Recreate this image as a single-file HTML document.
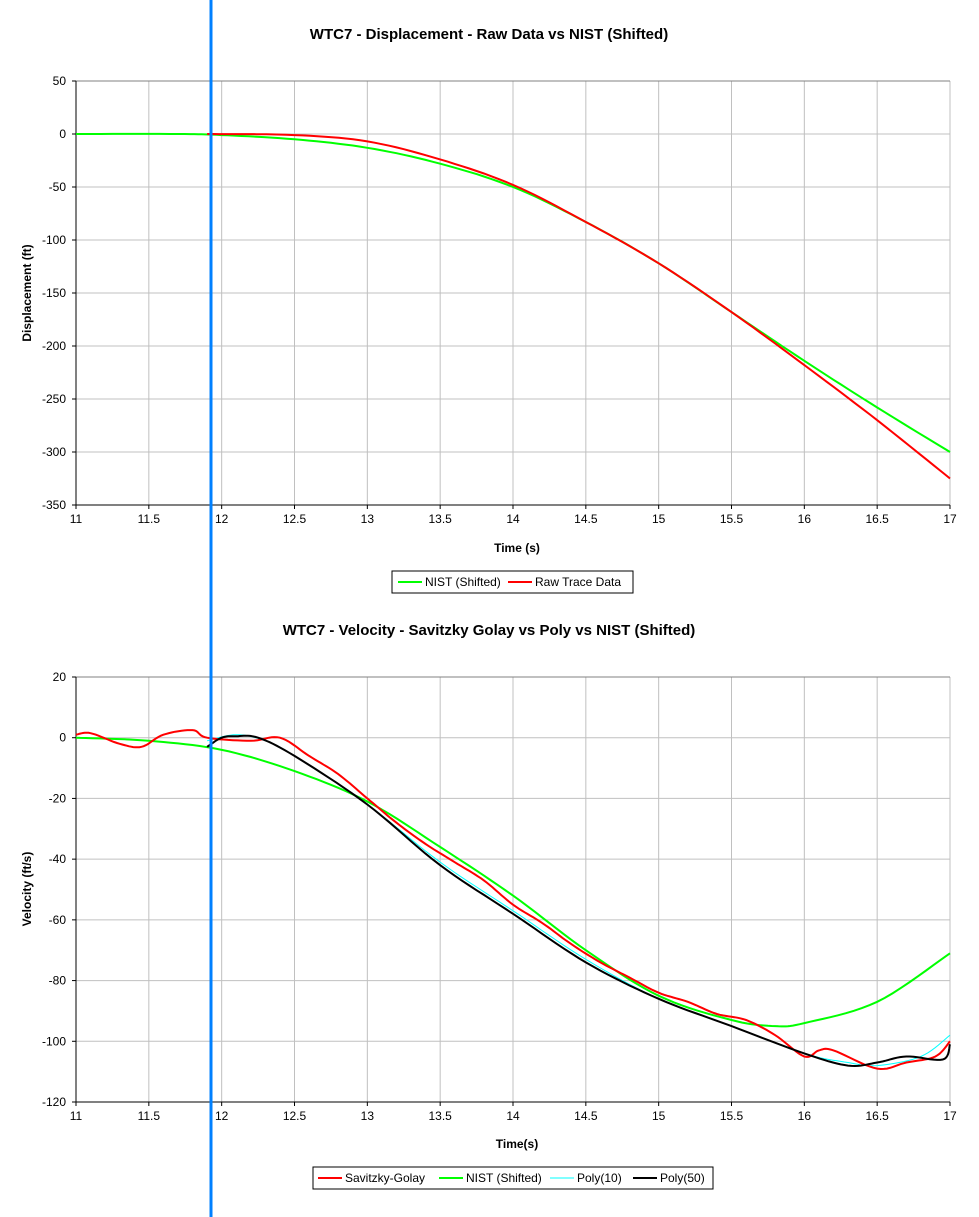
<!DOCTYPE html><html><head><style>body{margin:0;background:#fff}svg{display:block;font-family:"Liberation Sans",Arial,sans-serif}</style></head><body>
<svg id="s" width="979" height="1217" xmlns="http://www.w3.org/2000/svg">
<text x="489" y="39" text-anchor="middle" font-size="15" font-weight="bold">WTC7 - Displacement - Raw Data vs NIST (Shifted)</text>
<text x="489" y="635" text-anchor="middle" font-size="15" font-weight="bold">WTC7 - Velocity - Savitzky Golay vs Poly vs NIST (Shifted)</text>
<text x="517" y="552" text-anchor="middle" font-size="12" font-weight="bold">Time (s)</text>
<text x="517" y="1148" text-anchor="middle" font-size="12" font-weight="bold">Time(s)</text>
<text transform="translate(31,293) rotate(-90)" text-anchor="middle" font-size="12" font-weight="bold">Displacement (ft)</text>
<text transform="translate(31,889) rotate(-90)" text-anchor="middle" font-size="12" font-weight="bold">Velocity (ft/s)</text>
<g id="g"></g>
<rect x="392" y="571" width="241" height="22" fill="#fff" stroke="#000"/>
<line x1="398" y1="582" x2="422" y2="582" stroke="#0f0" stroke-width="2"/><text x="425" y="586" font-size="12">NIST (Shifted)</text>
<line x1="508" y1="582" x2="532" y2="582" stroke="#f00" stroke-width="2"/><text x="535" y="586" font-size="12">Raw Trace Data</text>
<rect x="313" y="1167" width="400" height="22" fill="#fff" stroke="#000"/>
<line x1="318" y1="1178" x2="342" y2="1178" stroke="#f00" stroke-width="2"/><text x="345" y="1182" font-size="12">Savitzky-Golay</text>
<line x1="439" y1="1178" x2="463" y2="1178" stroke="#0f0" stroke-width="2"/><text x="466" y="1182" font-size="12">NIST (Shifted)</text>
<line x1="550" y1="1178" x2="574" y2="1178" stroke="#0ff" stroke-width="1"/><text x="577" y="1182" font-size="12">Poly(10)</text>
<line x1="633" y1="1178" x2="657" y2="1178" stroke="#000" stroke-width="2"/><text x="660" y="1182" font-size="12">Poly(50)</text>
<line x1="211" y1="0" x2="211" y2="1217" stroke="#0080ff" stroke-width="3" id="bl"/>
</svg>
<script>
const g=document.getElementById('g');let h='';
const X=t=>76+(t-11)*874/6;
function axes(top,bot,vmax,vmin,step){const Y=v=>top+(vmax-v)*(bot-top)/(vmax-vmin);
for(let t=11;t<=17.001;t+=0.5){const x=X(t);h+=`<line x1="${x}" y1="${top}" x2="${x}" y2="${bot}" stroke="#c0c0c0"/>`;h+=`<text x="${x}" y="${bot+18}" text-anchor="middle" font-size="12">${+t.toFixed(1)}</text>`;h+=`<line x1="${x}" y1="${bot}" x2="${x}" y2="${bot+4}" stroke="#000"/>`}
for(let v=vmax;v>=vmin;v-=step){const y=Y(v);h+=`<line x1="76" y1="${y}" x2="950" y2="${y}" stroke="${v==vmax?'#808080':'#c0c0c0'}"/>`;h+=`<text x="66" y="${y+4}" text-anchor="end" font-size="12">${v}</text>`;h+=`<line x1="72" y1="${y}" x2="76" y2="${y}" stroke="#000"/>`}
h+=`<line x1="76" y1="${top}" x2="76" y2="${bot}" stroke="#000"/><line x1="76" y1="${bot}" x2="950" y2="${bot}" stroke="#000"/>`;return Y}
function cr(p,Y,col,w){let pts=[];for(let i=0;i<p.length-1;i++){const p0=p[Math.max(0,i-1)],p1=p[i],p2=p[i+1],p3=p[Math.min(p.length-1,i+2)];for(let k=0;k<10;k++){const s=k/10,s2=s*s,s3=s2*s;const f=(a,b,c,d)=>0.5*(2*b+(-a+c)*s+(2*a-5*b+4*c-d)*s2+(-a+3*b-3*c+d)*s3);pts.push([X(f(p0[0],p1[0],p2[0],p3[0])),Y(f(p0[1],p1[1],p2[1],p3[1]))])}}const l=p[p.length-1];pts.push([X(l[0]),Y(l[1])]);
h+=`<polyline fill="none" stroke="${col}" stroke-width="${w}" points="${pts.map(q=>q[0].toFixed(1)+','+q[1].toFixed(1)).join(' ')}"/>`}
let Y=axes(81,505,50,-350,50);
cr([[11,0],[11.7,0],[12,-1],[12.5,-5],[13,-13],[13.5,-28],[14,-50],[14.5,-83],[15,-122],[15.5,-168],[16,-214],[16.5,-258],[17,-300]],Y,'#0f0',2);
cr([[11.9,0],[12.5,-1],[13,-7],[13.5,-24],[14,-48],[14.5,-83],[15,-122],[15.5,-168],[16,-218],[16.5,-270],[17,-325]],Y,'#f00',2);
Y=axes(677,1102,20,-120,20);
cr([[11,0],[11.5,-1],[12,-4],[12.5,-11],[13,-21],[13.5,-36],[14,-52],[14.5,-70],[15,-85],[15.5,-93],[15.8,-95],[16,-94],[16.5,-87],[17,-71]],Y,'#0f0',2);
cr([[11.9,-1],[12.1,1],[12.3,-1],[12.5,-6],[13,-22],[13.5,-41],[14,-57],[14.5,-73],[15,-86],[15.5,-95],[16,-104],[16.3,-107],[16.5,-108],[16.8,-105],[17,-98]],Y,'#0ff',1);
cr([[11,1],[11.1,1.5],[11.3,-2],[11.45,-3],[11.6,1],[11.8,2.5],[11.9,0],[12.2,-1],[12.4,0],[12.6,-6],[12.8,-12],[13,-20],[13.2,-28],[13.4,-35],[13.6,-41],[13.8,-47],[14,-55],[14.2,-61],[14.4,-68],[14.6,-74],[14.8,-79],[15,-84],[15.2,-87],[15.4,-91],[15.6,-93],[15.8,-98],[16,-105],[16.1,-103],[16.2,-103],[16.5,-109],[16.7,-107],[16.9,-105],[17,-100]],Y,'#f00',2);
cr([[11.9,-3],[12,0],[12.1,0.5],[12.25,0],[12.5,-6],[13,-22],[13.5,-42],[14,-58],[14.5,-74],[15,-86],[15.5,-95],[16,-104],[16.3,-108],[16.5,-107],[16.7,-105],[16.95,-106],[17,-101]],Y,'#000',2);
g.innerHTML=h;
</script></body></html>
